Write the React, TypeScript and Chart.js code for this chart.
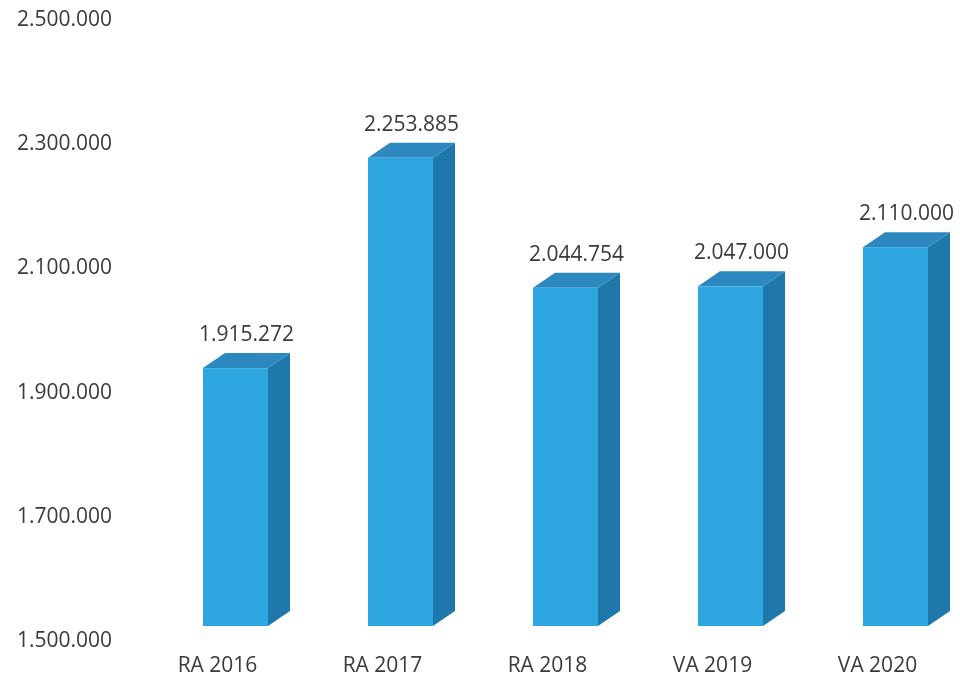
import React, { useEffect, useRef } from "react";
import { Chart, registerables } from "chart.js";

Chart.register(...registerables);

const categories = ["RA 2016", "RA 2017", "RA 2018", "VA 2019", "VA 2020"];
const values = [1915272, 2253885, 2044754, 2047000, 2110000];
const yMin = 1500000;
const yMax = 2500000;
const yStep = 200000;

const FRONT = "#2ea6e0";
const TOP = "#2c88bf";
const SIDE = "#1f78ab";
const TEXT = "#3a3a3a";
const FONT = "'Open Sans', sans-serif";

const SHIFT_X = 18;
const LIFT = 15;
const DX = 22;
const DY = 15;

function fmt(n: number): string {
  return Math.round(n)
    .toString()
    .replace(/\B(?=(\d{3})+(?!\d))/g, ".");
}

const bar3d = {
  id: "bar3d",
  afterDatasetsDraw(chart: any) {
    const ctx = chart.ctx;
    const meta = chart.getDatasetMeta(0);
    const ys = chart.scales.y;
    const base = ys.getPixelForValue(yMin);
    ctx.save();
    meta.data.forEach((el: any, i: number) => {
      const p = el.getProps(["x", "y", "width"], true);
      const w = p.width;
      const left = p.x - w / 2 + SHIFT_X;
      const right = left + w;
      const top = p.y - LIFT;
      const bottom = base - LIFT;
      // side face
      ctx.fillStyle = SIDE;
      ctx.beginPath();
      ctx.moveTo(right, top);
      ctx.lineTo(right + DX, top - DY);
      ctx.lineTo(right + DX, bottom - DY);
      ctx.lineTo(right, bottom);
      ctx.closePath();
      ctx.fill();
      // top face
      ctx.fillStyle = TOP;
      ctx.beginPath();
      ctx.moveTo(left, top);
      ctx.lineTo(left + DX, top - DY);
      ctx.lineTo(right + DX, top - DY);
      ctx.lineTo(right, top);
      ctx.closePath();
      ctx.fill();
      // front face
      ctx.fillStyle = FRONT;
      ctx.fillRect(left, top, w, bottom - top);
      // value label
      ctx.fillStyle = TEXT;
      ctx.font = `21px ${FONT}`;
      ctx.textAlign = "center";
      ctx.textBaseline = "alphabetic";
      ctx.fillText(fmt(values[i]), (left + right + DX) / 2, top - DY - 12);
    });
    ctx.restore();
  },
};

export default function App() {
  const ref = useRef<HTMLCanvasElement | null>(null);
  useEffect(() => {
    if (!ref.current) return;
    const chart = new Chart(ref.current, {
      type: "bar",
      data: {
        labels: categories,
        datasets: [
          {
            data: values,
            backgroundColor: "rgba(0,0,0,0)",
            borderWidth: 0,
            categoryPercentage: 1,
            barPercentage: 0.394,
          },
        ],
      },
      options: {
        animation: false,
        responsive: false,
        devicePixelRatio: 1,
        layout: { padding: { top: 20, left: 0, right: 0, bottom: 0 } },
        plugins: {
          legend: { display: false },
          tooltip: { enabled: false },
        },
        scales: {
          x: {
            grid: { display: false, drawTicks: false },
            border: { display: false },
            ticks: {
              color: TEXT,
              font: { family: FONT, size: 21 },
              padding: 12,
              maxRotation: 0,
              autoSkip: false,
            },
            afterFit: (s: any) => {
              s.height = 40;
              s.paddingLeft = 0;
              s.paddingRight = 0;
            },
          },
          y: {
            min: yMin,
            max: yMax,
            grid: { display: false, drawTicks: false },
            border: { display: false },
            ticks: {
              stepSize: yStep,
              color: TEXT,
              font: { family: FONT, size: 21 },
              padding: 23,
              callback: (v: any) => fmt(Number(v)),
            },
            afterFit: (s: any) => {
              s.width = 135;
              s.paddingTop = 0;
              s.paddingBottom = 0;
            },
          },
        },
      },
      plugins: [bar3d],
    });
    return () => chart.destroy();
  }, []);
  return (
    <div
      style={{
        position: "fixed",
        left: 0,
        top: 0,
        width: 960,
        height: 681,
        background: "#ffffff",
      }}
    >
      <canvas ref={ref} width={960} height={681} />
    </div>
  );
}
